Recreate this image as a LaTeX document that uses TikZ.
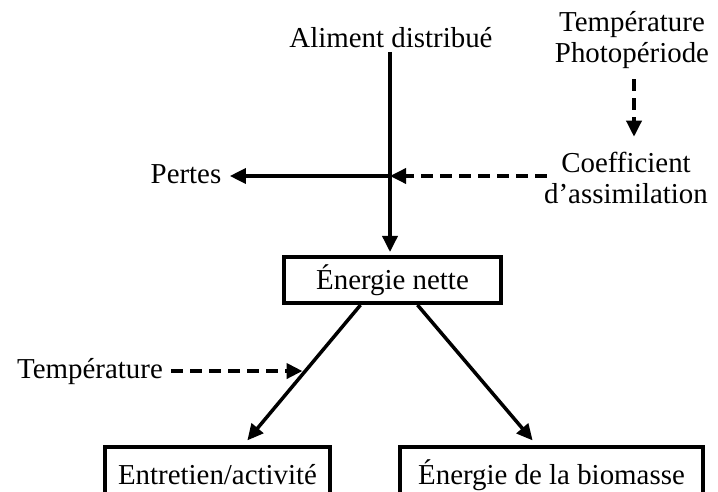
\documentclass[tikz,border=0pt]{standalone}
\usepackage{fontspec}
\setmainfont{Liberation Serif}
\usetikzlibrary{arrows.meta,calc}

\begin{document}
\begin{tikzpicture}[x=1bp,y=-1bp,
    every node/.style={font=\fontsize{29}{31}\selectfont},
    flow/.style={line width=3.5bp,-{Triangle[length=16bp,width=15bp]}},
    infl/.style={flow,dash pattern=on 12bp off 7bp},
    box/.style={draw,line width=4bp,inner sep=0pt}]
    \useasboundingbox(0,0)rectangle(718,492);
    \clip(0,0)rectangle(718,492);
    \node[anchor=base](aliment) at (391,48){Aliment distribué};
    \node[align=center](tempphoto) at (632,40){Température\\Photopériode};
    \node[align=center](coef) at (626,178){Coefficient\\d’assimilation};
    \node[anchor=base](pertes) at (186,184){Pertes};
    \node[anchor=base](temp) at (90,378){Température};
    \node[box,minimum width=217bp,minimum height=46bp](nette) at (392.5,280){Énergie nette};
    \node[box,minimum width=225bp,minimum height=56bp](entretien) at (217.5,475){Entretien/activité};
    \node[box,minimum width=303bp,minimum height=56bp](biomasse) at (551.5,475){Énergie de la biomasse};
    \coordinate(jct) at (390,176);
    \draw[flow,shorten >=3bp](aliment.south-|jct)--(jct|-nette.north);
    \draw[flow,shorten >=5bp](jct)--(pertes.east|-jct);
    \draw[infl,shorten <=-6bp](jct-|coef.west)--(jct);
    \draw[infl,shorten <=7bp,shorten >=12bp]([xshift=2bp]tempphoto.south)--([xshift=2bp]tempphoto.south|-coef.north);
    \draw[flow,shorten >=6bp]([xshift=-32bp]nette.south)--([xshift=26bp]entretien.north)coordinate[pos=0.47](hit);
    \draw[flow,shorten >=6bp]([xshift=25bp]nette.south)--([xshift=-15bp]biomasse.north);
    \draw[infl,line width=4bp,shorten <=5bp,shorten >=3bp](temp.east)--(temp.east-|hit);
\end{tikzpicture}
\end{document}
